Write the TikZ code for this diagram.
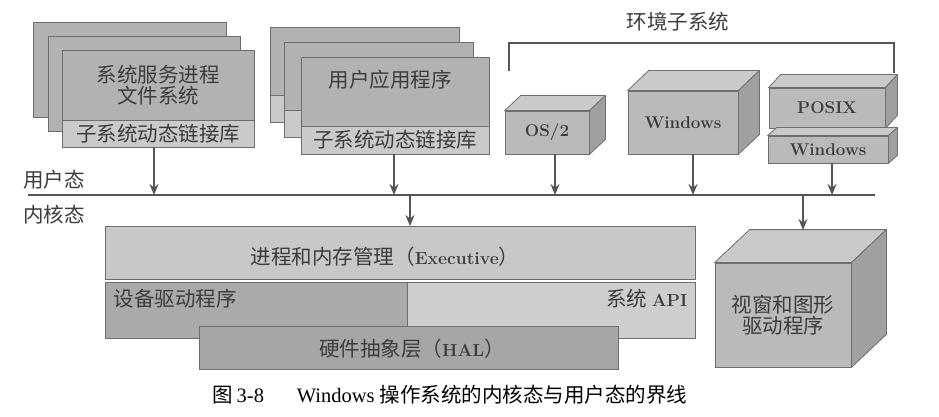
\documentclass[tikz,border=0pt]{standalone}
\usepackage{fontspec}
\newfontfamily\cjk{Noto Sans CJK SC}
\newfontfamily\capfont{Liberation Serif}
\usetikzlibrary{arrows.meta}
\definecolor{edge}{RGB}{110,110,110}
\definecolor{ink}{RGB}{60,60,60}
\definecolor{ink2}{RGB}{85,85,85}
\definecolor{gmid}{RGB}{178,178,178}
\definecolor{glight}{RGB}{202,202,202}
\definecolor{gexec}{RGB}{200,200,200}
\definecolor{gdev}{RGB}{170,170,170}
\definecolor{gapi}{RGB}{206,206,206}
\definecolor{ghal}{RGB}{166,166,166}
\definecolor{gfront}{RGB}{186,186,186}
\definecolor{gtop}{RGB}{202,202,202}
\definecolor{gside}{RGB}{160,160,160}
\newcommand{\lat}[1]{{\rmfamily\bfseries\fontsize{17.5}{20}\selectfont #1}}
\newcommand{\mycuboid}[3]{%
  \filldraw[topface] (#1.north west) -- ++(#2,-#3) -- ([shift={(#2,-#3)}]#1.north east) -- (#1.north east) -- cycle;
  \filldraw[sideface] (#1.north east) -- ++(#2,-#3) -- ([shift={(#2,-#3)}]#1.south east) -- (#1.south east) -- cycle;
}
\tikzset{
  stk/.style={draw=edge, line width=0.8pt, fill=gmid, inner sep=0pt},
  stkl/.style={stk, fill=glight},
  cj/.style={font=\cjk\fontsize{20.5}{25}\selectfont, text=ink},
  front/.style={draw=edge, line width=0.8pt, fill=gfront, inner sep=0pt, text=ink,
    font=\rmfamily\bfseries\fontsize{17}{19}\selectfont},
  topface/.style={draw=edge, line width=0.8pt, fill=gtop, line join=round},
  sideface/.style={draw=edge, line width=0.8pt, fill=gside, line join=round},
  arr/.style={draw=ink2, line width=2pt, -{Stealth[length=11pt,width=9pt]}},
  rulel/.style={draw=ink2, line width=2.4pt},
  layer/.style={draw=edge, line width=0.8pt, inner sep=0pt, cj},
}
\begin{document}
\begin{tikzpicture}[x=1pt,y=-1pt]
\useasboundingbox[fill=white] (0,0) rectangle (939,417);

% ---- left stack: system service processes
\node[stk, minimum width=193pt, minimum height=95pt] (s1c) at (129.5,69.5) {};
\node[stk, minimum width=192pt, minimum height=95pt] (s1b) at (144,83.5) {};
\node[stk, cj, minimum width=192pt, minimum height=70pt, align=center] (ssp) at (158,85)
  {系统服务进程\\[-4pt]文件系统};
\node[stkl, cj, minimum width=192pt, minimum height=27pt] (sdll1) at (158,133.5) {子系统动态链接库};

% ---- second stack: user applications
\node[stk, minimum width=189pt, minimum height=68pt] (s2c) at (364.5,61) {};
\node[stkl, minimum width=189pt, minimum height=27pt] (s2cl) at (364.5,108.5) {};
\node[stk, minimum width=189pt, minimum height=68pt] (s2b) at (378.5,76) {};
\node[stkl, minimum width=189pt, minimum height=27pt] (s2bl) at (378.5,123.5) {};
\node[stk, minimum width=188pt, minimum height=69pt] (app) at (395,91.5) {};
\node[cj] (apptxt) at (390,80) {用户应用程序};
\node[stkl, cj, minimum width=188pt, minimum height=28pt] (dll2) at (395,140) {子系统动态链接库};

% ---- environment subsystems
\node[cj] (envlbl) at (678,22) {环境子系统};
\coordinate (brL) at (509,71);
\coordinate (brR) at (894,73);
\draw[draw=ink2, line width=2.4pt, line cap=butt] (brL) -- (509,43) -- (894,43) -- (brR);

\node[front, minimum width=84pt, minimum height=43pt] (os2) at (547,132.5) {OS/2};
\mycuboid{os2}{16}{15}
\node[front, minimum width=110pt, minimum height=63pt] (win) at (683,122.5) {Windows};
\mycuboid{win}{21}{20}
\node[front, minimum width=116pt, minimum height=40pt] (posix) at (827,108) {POSIX};
\mycuboid{posix}{12}{13}
\node[front, minimum width=120pt, minimum height=27pt] (win2) at (828,149.5) {Windows};
\mycuboid{win2}{9}{8}

% ---- user/kernel boundary
\coordinate (lineL) at (28,195);
\coordinate (lineR) at (875,195);
\draw[rulel] (lineL) -- (lineR);
\node[cj] (umode) at (54,180) {用户态};
\node[cj] (kmode) at (54,215) {内核态};

% ---- kernel layers
\node[layer, fill=gexec, minimum width=590pt, minimum height=53pt] (exec) at (400,253) {};
\node[cj] (exectxt) at (385,257) {进程和内存管理（\lat{Executive}）};
\node[layer, fill=gdev, minimum width=302pt, minimum height=56pt] (dev) at (256,310) {};
\node[layer, fill=gapi, minimum width=288pt, minimum height=56pt] (api) at (551,310) {};
\node[cj, anchor=west] (devtxt) at (110,299) {设备驱动程序};
\node[cj, anchor=east] (apitxt) at (691,299) {系统 \lat{API}};
\node[layer, fill=ghal, minimum width=419pt, minimum height=43pt] (hal) at (408.5,347.5) {};
\node[cj] (haltxt) at (412,349) {硬件抽象层（\lat{HAL}）};

\node[front, cj, minimum width=136pt, minimum height=104pt, align=center] (gdi) at (783,315)
  {视窗和图形\\[-4pt]驱动程序};
\mycuboid{gdi}{35}{33}

% ---- arrows
\draw[arr] ([xshift=-4pt]sdll1.south) -- ([xshift=-4pt]sdll1.south |- lineL);
\draw[arr] ([xshift=-1pt]dll2.south) -- ([xshift=-1pt]dll2.south |- lineL);
\draw[arr] ([xshift=8pt]os2.south) -- ([xshift=8pt]os2.south |- lineL);
\draw[arr] ([xshift=10pt]win.south) -- ([xshift=10pt]win.south |- lineL);
\draw[arr] ([xshift=4pt]win2.south) -- ([xshift=4pt]win2.south |- lineL);
\coordinate (k1) at (410,196);
\coordinate (k2) at (803,196);
\draw[arr] (k1) -- (k1 |- exec.north);
\draw[arr] (k2) -- (803,230);

% ---- caption
\node[font=\capfont\fontsize{20.5}{24}\selectfont, text=black] (cap) at (450,395)
  {{\cjk 图}\,3-8\hspace{1.6em}Windows {\cjk 操作系统的内核态与用户态的界线}};
\end{tikzpicture}
\end{document}
